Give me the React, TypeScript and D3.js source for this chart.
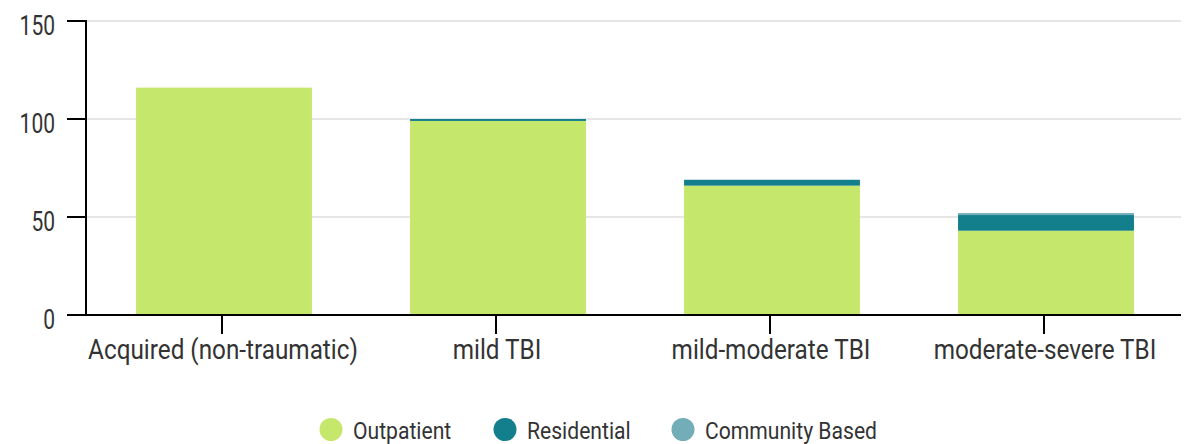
import React from "react";
import * as d3 from "d3";

const categories = [
  "Acquired (non-traumatic)",
  "mild TBI",
  "mild-moderate TBI",
  "moderate-severe TBI",
];
const outpatient = [116, 99, 66, 43];
const residential = [0, 1, 3, 8];
const communityBased = [0, 0, 0, 1];
const seriesNames = ["Outpatient", "Residential", "Community Based"];
const seriesColors = ["#c5e76c", "#137f8c", "#72adb8"];
const yTicks = [0, 50, 100, 150];

const width = 1188;
const height = 444;
const margin = { top: 21, right: 7, bottom: 129, left: 86 };

// Roboto squeezed horizontally to look like the condensed face in the original
function Label(props: {
  x: number;
  y: number;
  size: number;
  sx: number;
  anchor?: string;
  children: React.ReactNode;
}) {
  return (
    <text
      transform={`translate(${props.x},${props.y}) scale(${props.sx},1)`}
      fontSize={props.size}
      textAnchor={props.anchor || "start"}
      fill="#333"
    >
      {props.children}
    </text>
  );
}

export default function App() {
  const rows = categories.map((c, i) => ({
    category: c,
    Outpatient: outpatient[i],
    Residential: residential[i],
    "Community Based": communityBased[i],
  }));
  const stack = d3.stack<any>().keys(seriesNames)(rows);

  const x = d3
    .scaleBand()
    .domain(categories)
    .range([margin.left - 1, width - margin.right]);
  const barW = x.bandwidth() * 0.642;
  const y = d3
    .scaleLinear()
    .domain([0, 150])
    .range([height - margin.bottom, margin.top]);

  const legendX = [331, 505, 683];

  return (
    <svg
      width={width}
      height={height}
      style={{ position: "absolute", left: 0, top: 0 }}
      fontFamily="Roboto, sans-serif"
    >
      {/* grid */}
      {yTicks.slice(1).map((t) => (
        <line
          key={t}
          x1={margin.left}
          x2={width - margin.right}
          y1={y(t)}
          y2={y(t)}
          stroke="#e6e6e6"
          strokeWidth={2}
        />
      ))}
      {/* bars */}
      {stack.map((s, si) => (
        <g key={s.key} fill={seriesColors[si]}>
          {s.map((d, i) =>
            d[1] - d[0] > 0 ? (
              <rect
                key={i}
                x={(x(categories[i]) as number) + x.bandwidth() / 2 - barW / 2 + 2}
                width={barW}
                y={y(d[1])}
                height={y(d[0]) - y(d[1])}
              />
            ) : null
          )}
        </g>
      ))}
      {/* y axis */}
      <line
        x1={margin.left}
        x2={margin.left}
        y1={y(150) - 1}
        y2={y(0)}
        stroke="#000"
        strokeWidth={2}
      />
      {yTicks.map((t) => (
        <g key={t}>
          <line
            x1={67}
            x2={margin.left}
            y1={y(t)}
            y2={y(t)}
            stroke="#000"
            strokeWidth={2}
          />
          <Label x={55} y={y(t) + 14} size={28} sx={0.75} anchor="end">
            {t}
          </Label>
        </g>
      ))}
      {/* x axis */}
      <line
        x1={margin.left}
        x2={width - margin.right}
        y1={y(0)}
        y2={y(0)}
        stroke="#000"
        strokeWidth={2}
      />
      {categories.map((c) => {
        const cx = (x(c) as number) + x.bandwidth() / 2;
        return (
          <g key={c}>
            <line
              x1={cx}
              x2={cx}
              y1={y(0)}
              y2={y(0) + 19}
              stroke="#000"
              strokeWidth={2}
            />
            <Label x={cx + 1} y={y(0) + 44} size={27} sx={0.9} anchor="middle">
              {c}
            </Label>
          </g>
        );
      })}
      {/* legend */}
      {seriesNames.map((n, i) => (
        <g key={n}>
          <circle cx={legendX[i]} cy={429.5} r={11.5} fill={seriesColors[i]} />
          <Label x={legendX[i] + 22} y={439} size={24} sx={0.88}>
            {n}
          </Label>
        </g>
      ))}
    </svg>
  );
}
